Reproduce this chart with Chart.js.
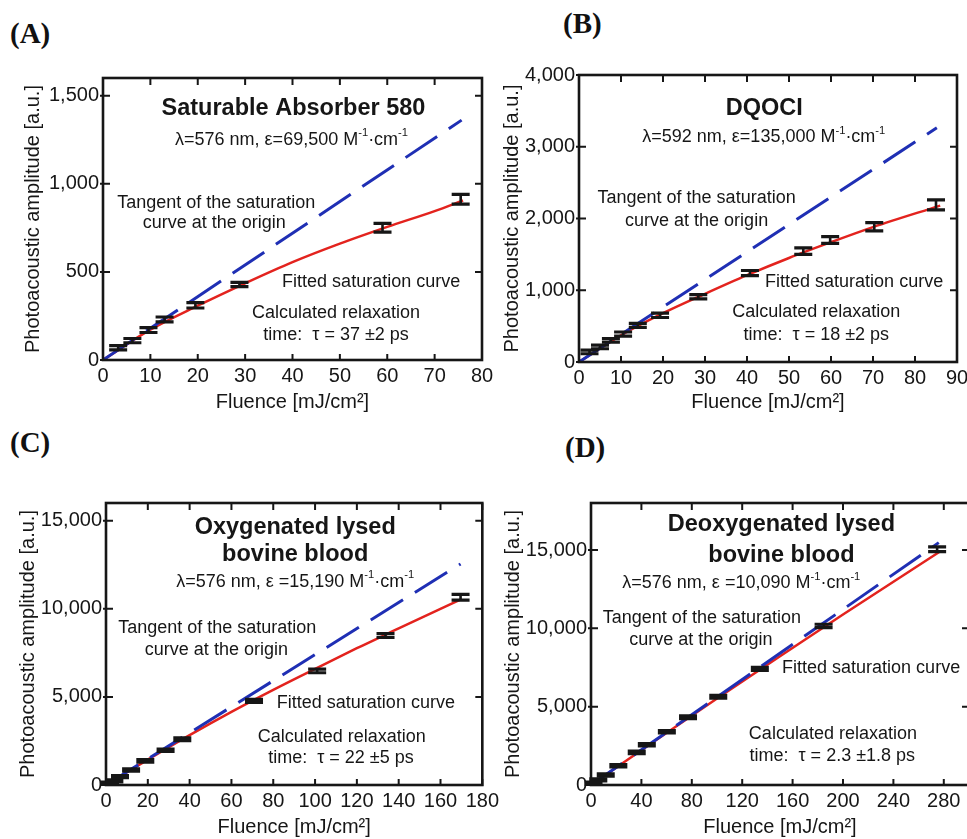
<!DOCTYPE html>
<html>
<head>
<meta charset="utf-8">
<title>Photoacoustic saturation of absorbers</title>
<script src="https://cdn.jsdelivr.net/npm/chart.js@4.4.1/dist/chart.umd.min.js"></script>
<style>
  html, body { margin: 0; padding: 0; background: #fff; }
  body { position: relative; width: 967px; height: 839px; overflow: hidden; }
  canvas { position: absolute; }
  .tag { position: absolute; font: bold 29px "Liberation Serif", "Times New Roman", serif; color: #111; line-height: 1; }
</style>
</head>
<body>
<div class="tag" style="left:10px;top:19px">(A)</div>
<div class="tag" style="left:563px;top:9px">(B)</div>
<div class="tag" style="left:10px;top:428px">(C)</div>
<div class="tag" style="left:565px;top:433px">(D)</div>

<canvas id="chartA" width="481" height="356" style="left:21px;top:58px"></canvas>
<canvas id="chartB" width="477" height="359" style="left:500px;top:55px"></canvas>
<canvas id="chartC" width="487" height="356" style="left:16px;top:483px"></canvas>
<canvas id="chartD" width="488" height="356" style="left:501px;top:483px"></canvas>

<script>
// ---------- (A) Saturable Absorber 580 ----------
const fluenceA   = [3.2, 6.2, 9.6, 13.0, 19.5, 28.8, 59.0, 75.5];
const amplitudeA = [70, 110, 170, 230, 310, 428, 750, 912];
const errorA     = [12, 12, 14, 14, 15, 12, 25, 28];
const fitFluenceA   = [0, 10, 20, 30, 40, 50, 60, 70, 76];
const fitAmplitudeA = [0, 172, 308, 435, 555, 660, 755, 845, 905];
const tangentFluenceA   = [0, 75.7];
const tangentAmplitudeA = [0, 1361];
const xTicksA = [0, 10, 20, 30, 40, 50, 60, 70, 80];
const yTicksA = [0, 500, 1000, 1500];

// ---------- (B) DQOCI ----------
const fluenceB   = [2.5, 5.0, 7.6, 10.5, 14.0, 19.3, 28.4, 40.7, 53.4, 59.8, 70.3, 85.0];
const amplitudeB = [140, 210, 300, 390, 510, 650, 910, 1240, 1545, 1700, 1885, 2190];
const errorB     = [25, 25, 25, 28, 28, 30, 30, 35, 46, 46, 58, 70];
const fitFluenceB   = [0, 10, 20, 30, 40, 50, 60, 70, 86];
const fitAmplitudeB = [0, 372, 680, 950, 1210, 1450, 1670, 1880, 2180];
const tangentFluenceB   = [0, 85.2];
const tangentAmplitudeB = [0, 3265];
const xTicksB = [0, 10, 20, 30, 40, 50, 60, 70, 80, 90];
const yTicksB = [0, 1000, 2000, 3000, 4000];

// ---------- (C) Oxygenated lysed bovine blood ----------
const fluenceC   = [1.9, 4.0, 6.7, 12.0, 18.8, 28.5, 36.5, 70.8, 101.0, 133.7, 169.6];
const amplitudeC = [100, 230, 470, 850, 1370, 1970, 2600, 4770, 6470, 8480, 10650];
const errorC     = [60, 60, 60, 70, 70, 70, 80, 90, 100, 110, 160];
const fitFluenceC   = [0, 20, 40, 60, 80, 100, 120, 140, 170];
const fitAmplitudeC = [0, 1440, 2830, 4150, 5400, 6590, 7760, 8880, 10550];
const tangentFluenceC   = [0, 169.6];
const tangentAmplitudeC = [0, 12543];
const xTicksC = [0, 20, 40, 60, 80, 100, 120, 140, 160, 180];
const yTicksC = [0, 5000, 10000, 15000];

// ---------- (D) Deoxygenated lysed bovine blood ----------
const fluenceD   = [2.0, 5.8, 11.7, 21.7, 36.3, 44.3, 60.2, 77.0, 101.0, 134.0, 184.6, 274.7];
const amplitudeD = [110, 330, 640, 1230, 2080, 2570, 3400, 4320, 5640, 7410, 10150, 15050];
const errorD     = [70, 70, 70, 80, 80, 80, 80, 90, 90, 100, 110, 150];
const fitFluenceD   = [0, 50, 100, 150, 200, 277];
const fitAmplitudeD = [0, 2780, 5520, 8220, 10880, 14900];
const tangentFluenceD   = [0, 276];
const tangentAmplitudeD = [0, 15470];
const xTicksD = [0, 40, 80, 120, 160, 200, 240, 280];
const yTicksD = [0, 5000, 10000, 15000];

// ---------- shared styling ----------
const FAMILY = '"Liberation Sans", Arial, Helvetica, sans-serif';
const INK = '#161616';
const FIT_RED = '#e3231e';
const TANGENT_BLUE = '#1f2fb4';

const zip = (xs, ys) => xs.map((x, i) => ({ x, y: ys[i] }));
const withCommas = v => String(v).replace(/\B(?=(\d{3})+(?!\d))/g, ',');

// Text with ^{...} superscripts, centred on (cx, cy)
function drawRich(ctx, text, cx, cy, size, bold) {
  const parts = text.split(/\^\{([^}]*)\}/);
  const weight = bold ? 'bold ' : '';
  const normal = weight + size + 'px ' + FAMILY;
  const small = weight + (size * 0.62).toFixed(1) + 'px ' + FAMILY;
  const widths = parts.map((p, i) => { ctx.font = i % 2 ? small : normal; return ctx.measureText(p).width; });
  const total = widths.reduce((a, b) => a + b, 0);
  let x = cx - total / 2;
  ctx.textAlign = 'left';
  ctx.textBaseline = 'middle';
  ctx.fillStyle = INK;
  parts.forEach((p, i) => {
    ctx.font = i % 2 ? small : normal;
    ctx.fillText(p, x, i % 2 ? cy - size * 0.38 : cy);
    x += widths[i];
  });
}

// Text notes placed at data coordinates
function notesPlugin(items) {
  return {
    id: 'notes',
    afterDraw(chart) {
      const { ctx, scales: { x, y } } = chart;
      ctx.save();
      items.forEach(n => drawRich(ctx, n.t, x.getPixelForValue(n.x), y.getPixelForValue(n.y), n.bold ? 23.5 : 18, n.bold));
      ctx.restore();
    }
  };
}

// Vertical error bars with heavy caps for datasets carrying an errorBars array
const errorBarPlugin = {
  id: 'errorBars',
  afterDatasetsDraw(chart) {
    const { ctx, scales: { x, y } } = chart;
    ctx.save();
    ctx.strokeStyle = INK;
    chart.data.datasets.forEach(ds => {
      if (!ds.errorBars) return;
      ds.data.forEach((p, j) => {
        const e = ds.errorBars[j];
        const px = x.getPixelForValue(p.x);
        const top = y.getPixelForValue(p.y + e);
        const bot = y.getPixelForValue(p.y - e);
        ctx.lineWidth = 2.6;
        ctx.beginPath();
        ctx.moveTo(px, top); ctx.lineTo(px, bot);
        ctx.stroke();
        ctx.lineWidth = 3.2;
        ctx.beginPath();
        ctx.moveTo(px - 9, top); ctx.lineTo(px + 9, top);
        ctx.moveTo(px - 9, bot); ctx.lineTo(px + 9, bot);
        ctx.stroke();
      });
    });
    ctx.restore();
  }
};

// Boxed frame with tick marks on all four sides
const framePlugin = {
  id: 'frame',
  afterDatasetsDraw(chart) {
    const { ctx, chartArea: a, scales: { x, y } } = chart;
    ctx.save();
    ctx.strokeStyle = INK;
    ctx.lineWidth = 2;
    ctx.beginPath();
    x.ticks.forEach(t => {
      const px = x.getPixelForValue(t.value);
      ctx.moveTo(px, a.bottom + 1); ctx.lineTo(px, a.bottom - 6);
      ctx.moveTo(px, a.top); ctx.lineTo(px, a.top + 7);
    });
    y.ticks.forEach(t => {
      const py = y.getPixelForValue(t.value);
      ctx.moveTo(a.left - 3, py); ctx.lineTo(a.left + 7, py);
      ctx.moveTo(a.right, py); ctx.lineTo(a.right - 7, py);
    });
    ctx.stroke();
    ctx.lineWidth = 2.6;
    ctx.strokeRect(a.left, a.top, a.width, a.height);
    ctx.restore();
  }
};

function buildPanel(id, p) {
  const tickFont = { family: FAMILY, size: 20 };
  new Chart(document.getElementById(id), {
    type: 'scatter',
    data: {
      datasets: [
        { label: 'Measured', data: zip(p.fluence, p.amplitude), errorBars: p.error, pointRadius: 0, showLine: false },
        { label: 'Tangent at origin', data: zip(p.tanF, p.tanA), showLine: true, borderColor: TANGENT_BLUE,
          borderWidth: 3, borderDash: [38, 14], pointRadius: 0 },
        { label: 'Fitted saturation curve', data: zip(p.fitF, p.fitA), showLine: true, borderColor: FIT_RED,
          borderWidth: 2.5, tension: 0.4, cubicInterpolationMode: 'monotone', pointRadius: 0 }
      ]
    },
    options: {
      responsive: false,
      animation: false,
      devicePixelRatio: 1,
      layout: { padding: { left: 0, top: 20, right: 20, bottom: 0 } },
      plugins: { legend: { display: false }, tooltip: { enabled: false } },
      scales: {
        x: {
          type: 'linear', min: 0, max: p.xMax,
          grid: { display: false, drawTicks: false }, border: { display: false },
          ticks: { font: tickFont, color: INK, padding: 4, maxRotation: 0, autoSkip: false },
          afterBuildTicks: s => { s.ticks = p.xTicks.map(v => ({ value: v })); },
          afterFit: s => { s.height = p.xH; },
          title: { display: true, text: 'Fluence [mJ/cm²]', font: tickFont, color: INK, padding: 0 }
        },
        y: {
          type: 'linear', min: 0, max: p.yMax,
          grid: { display: false, drawTicks: false }, border: { display: false },
          ticks: { font: tickFont, color: INK, padding: 4, callback: v => withCommas(v) },
          afterBuildTicks: s => { s.ticks = p.yTicks.map(v => ({ value: v })); },
          afterFit: s => { s.width = p.yW; },
          title: { display: true, text: 'Photoacoustic amplitude [a.u.]', font: tickFont, color: INK, padding: 0 }
        }
      }
    },
    plugins: [framePlugin, errorBarPlugin, notesPlugin(p.notes)]
  });
}

buildPanel('chartA', {
  fluence: fluenceA, amplitude: amplitudeA, error: errorA,
  fitF: fitFluenceA, fitA: fitAmplitudeA, tanF: tangentFluenceA, tanA: tangentAmplitudeA,
  xTicks: xTicksA, yTicks: yTicksA, xMax: 80, yMax: 1600, yW: 82, xH: 54,
  notes: [
    { x: 40.2, y: 1429, t: 'Saturable Absorber 580', bold: true },
    { x: 39.8, y: 1248, t: 'λ=576 nm, ε=69,500 M^{-1}·cm^{-1}' },
    { x: 23.9, y: 890, t: 'Tangent of the saturation' },
    { x: 23.5, y: 777, t: 'curve at the origin' },
    { x: 56.6, y: 442, t: 'Fitted saturation curve' },
    { x: 49.2, y: 267, t: 'Calculated relaxation' },
    { x: 49.2, y: 142, t: 'time:  τ = 37 ±2 ps' }
  ]
});

buildPanel('chartB', {
  fluence: fluenceB, amplitude: amplitudeB, error: errorB,
  fitF: fitFluenceB, fitA: fitAmplitudeB, tanF: tangentFluenceB, tanA: tangentAmplitudeB,
  xTicks: xTicksB, yTicks: yTicksB, xMax: 90, yMax: 4000, yW: 79, xH: 52,
  notes: [
    { x: 44.1, y: 3536, t: 'DQOCI', bold: true },
    { x: 44.0, y: 3132, t: 'λ=592 nm, ε=135,000 M^{-1}·cm^{-1}' },
    { x: 28.0, y: 2282, t: 'Tangent of the saturation' },
    { x: 28.0, y: 1969, t: 'curve at the origin' },
    { x: 65.5, y: 1119, t: 'Fitted saturation curve' },
    { x: 56.5, y: 701, t: 'Calculated relaxation' },
    { x: 56.5, y: 376, t: 'time:  τ = 18 ±2 ps' }
  ]
});

buildPanel('chartC', {
  fluence: fluenceC, amplitude: amplitudeC, error: errorC,
  fitF: fitFluenceC, fitA: fitAmplitudeC, tanF: tangentFluenceC, tanA: tangentAmplitudeC,
  xTicks: xTicksC, yTicks: yTicksC, xMax: 180, yMax: 16000, yW: 90, xH: 54,
  notes: [
    { x: 90.5, y: 14625, t: 'Oxygenated lysed', bold: true },
    { x: 90.5, y: 13053, t: 'bovine blood', bold: true },
    { x: 90.5, y: 11538, t: 'λ=576 nm, ε =15,190 M^{-1}·cm^{-1}' },
    { x: 53.2, y: 8927, t: 'Tangent of the saturation' },
    { x: 52.8, y: 7662, t: 'curve at the origin' },
    { x: 124.3, y: 4637, t: 'Fitted saturation curve' },
    { x: 112.8, y: 2741, t: 'Calculated relaxation' },
    { x: 112.4, y: 1515, t: 'time:  τ = 22 ±5 ps' }
  ]
});

buildPanel('chartD', {
  fluence: fluenceD, amplitude: amplitudeD, error: errorD,
  fitF: fitFluenceD, fitA: fitAmplitudeD, tanF: tangentFluenceD, tanA: tangentAmplitudeD,
  xTicks: xTicksD, yTicks: yTicksD, xMax: 300, yMax: 18000, yW: 90, xH: 54,
  notes: [
    { x: 151.1, y: 16637, t: 'Deoxygenated lysed', bold: true },
    { x: 151.1, y: 14678, t: 'bovine blood', bold: true },
    { x: 119.3, y: 12870, t: 'λ=576 nm, ε =10,090 M^{-1}·cm^{-1}' },
    { x: 88.0, y: 10673, t: 'Tangent of the saturation' },
    { x: 87.2, y: 9285, t: 'curve at the origin' },
    { x: 222.3, y: 7484, t: 'Fitted saturation curve' },
    { x: 192.0, y: 3234, t: 'Calculated relaxation' },
    { x: 191.5, y: 1851, t: 'time:  τ = 2.3 ±1.8 ps' }
  ]
});
</script>
</body>
</html>
